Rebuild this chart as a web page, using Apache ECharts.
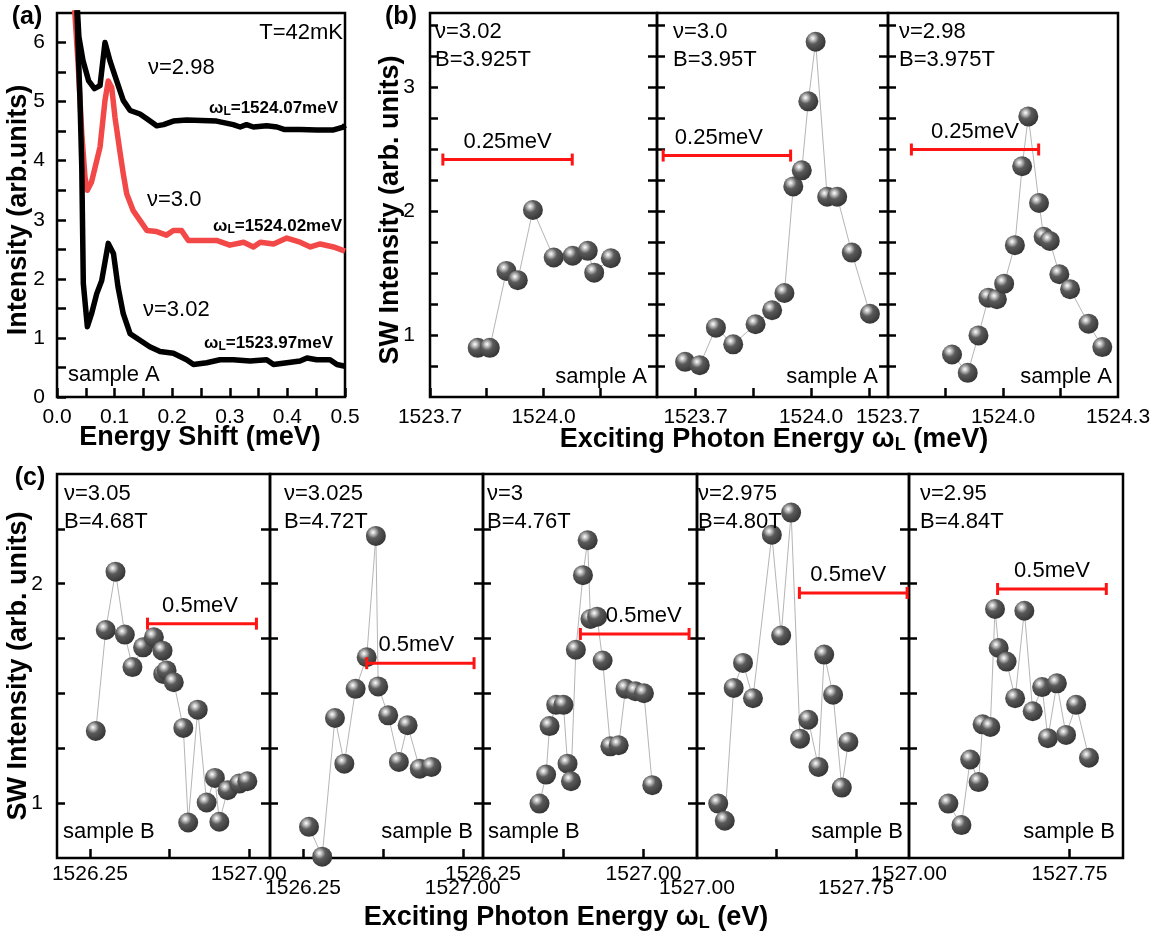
<!DOCTYPE html>
<html><head><meta charset="utf-8">
<script src="https://cdn.jsdelivr.net/npm/echarts@6/dist/echarts.min.js"></script>
<style>html,body{margin:0;padding:0;background:#fff}#c{width:1165px;height:941px}</style>
</head><body><div id="c"></div>
<script>
// ================= DATA =================
// Panel (a): spectra, energy shift (meV) vs intensity
const aShift298 = [0.033,0.038,0.045,0.055,0.065,0.0747,0.0833,0.092,0.1036,0.115,0.127,0.144,0.156,0.173,0.185,0.202,0.225,0.277,0.306,0.318,0.329,0.341,0.364,0.382,0.394,0.422,0.451,0.480,0.497,0.5];
const aInt298   = [7.0,6.1,5.7,5.35,5.22,5.27,6.0,5.69,5.35,5.02,4.85,4.79,4.71,4.59,4.61,4.67,4.69,4.67,4.61,4.57,4.61,4.57,4.59,4.57,4.53,4.53,4.52,4.52,4.57,4.6];
const aShift300 = [0.027,0.031,0.037,0.043,0.0486,0.0527,0.060,0.069,0.0747,0.0833,0.089,0.095,0.1007,0.109,0.115,0.121,0.132,0.144,0.156,0.173,0.190,0.202,0.216,0.228,0.248,0.277,0.300,0.324,0.341,0.353,0.376,0.399,0.422,0.440,0.457,0.480,0.5];
const aInt300   = [7.2,6.5,5.58,4.46,3.72,3.50,3.64,4.0,4.23,5.02,5.35,5.24,4.73,4.17,3.78,3.44,3.16,2.99,2.82,2.80,2.74,2.82,2.82,2.65,2.65,2.65,2.57,2.62,2.54,2.62,2.59,2.69,2.62,2.54,2.59,2.54,2.47];
const aShift302 = [0.033,0.040,0.043,0.0457,0.0527,0.060,0.069,0.0776,0.089,0.098,0.106,0.115,0.127,0.144,0.161,0.179,0.202,0.225,0.237,0.260,0.283,0.306,0.335,0.364,0.376,0.399,0.422,0.434,0.451,0.474,0.486,0.5];
const aInt302   = [7.0,5.0,3.89,1.92,1.19,1.41,1.75,1.97,2.6,2.43,1.86,1.41,1.07,0.96,0.85,0.77,0.74,0.63,0.55,0.58,0.63,0.63,0.61,0.63,0.55,0.58,0.61,0.66,0.63,0.63,0.55,0.52];
const aXTicks  = [0,0.05,0.1,0.15,0.2,0.25,0.3,0.35,0.4,0.45,0.5];
const aXLabels = [0,0.1,0.2,0.3,0.4,0.5];
const aYTicks  = [0,0.5,1,1.5,2,2.5,3,3.5,4,4.5,5,5.5,6];
const aYLabels = [0,1,2,3,4,5,6];

// Panel (b): SW intensity vs exciting photon energy (meV), sample A
const b1Energy = [1523.826,1523.858,1523.902,1523.932,1523.972,1524.027,1524.077,1524.117,1524.134,1524.178];
const b1SW     = [0.897,0.897,1.518,1.443,2.01,1.626,1.64,1.68,1.504,1.62];
const b2Energy = [1523.673,1523.711,1523.753,1523.798,1523.856,1523.899,1523.931,1523.954,1523.976,1523.993,1524.012,1524.042,1524.068,1524.106,1524.153];
const b2SW     = [0.784,0.757,1.06,0.925,1.087,1.2,1.34,2.2,2.33,2.887,3.368,2.117,2.117,1.666,1.172];
const b3Energy = [1523.867,1523.908,1523.936,1523.962,1523.984,1524.003,1524.031,1524.05,1524.066,1524.094,1524.106,1524.122,1524.147,1524.175,1524.223,1524.259];
const b3SW     = [0.843,0.695,0.997,1.302,1.289,1.415,1.726,2.363,2.765,2.066,1.794,1.76,1.491,1.37,1.092,0.903];
const bScaleBars = [[1523.734,1524.076,2.417],[1523.616,1523.947,2.449],[1523.761,1524.093,2.498]];
const bScaleText = '0.25meV';
const bXRanges = [[1523.7,1524.3],[1523.6,1524.2],[1523.7,1524.3]];
const bXTicks  = [[1523.7,1523.85,1524.0,1524.15],[1523.7,1523.85,1524.0,1524.15],[1523.85,1524.0,1524.15]];
const bXLabels = [[1523.7,1524.0],[1523.7,1524.0],[1523.7,1524.0,1524.3]];
const bYTicks  = [0.75,1,1.25,1.5,1.75,2,2.25,2.5,2.75,3,3.25,3.5];
const bYLabels = [1,2,3];

// Panel (c): SW intensity vs exciting photon energy, sample B
const c1Energy = [1526.278,1526.325,1526.371,1526.415,1526.451,1526.501,1526.552,1526.593,1526.596,1526.612,1526.646,1526.691,1526.714,1526.759,1526.801,1526.84,1526.861,1526.9,1526.955,1526.993];
const c1SW     = [1.329,1.789,2.055,1.768,1.62,1.71,1.756,1.695,1.589,1.605,1.551,1.343,0.912,1.426,1.003,1.115,0.915,1.059,1.089,1.1];
const c2Energy = [1526.278,1526.34,1526.4,1526.444,1526.497,1526.549,1526.592,1526.603,1526.65,1526.7,1526.741,1526.798,1526.853];
const c2SW     = [0.892,0.756,1.388,1.18,1.521,1.665,2.218,1.532,1.4,1.188,1.355,1.157,1.165];
const c3Energy = [1526.514,1526.545,1526.561,1526.592,1526.626,1526.645,1526.661,1526.684,1526.717,1526.739,1526.752,1526.783,1526.809,1526.845,1526.884,1526.916,1526.962,1527.002,1527.041];
const c3SW     = [0.998,1.13,1.351,1.448,1.448,1.18,1.1,1.699,2.039,2.198,1.839,1.85,1.65,1.259,1.264,1.521,1.51,1.501,1.082];
const c4Energy = [1527.1,1527.131,1527.173,1527.217,1527.264,1527.353,1527.397,1527.444,1527.486,1527.525,1527.573,1527.6,1527.642,1527.683,1527.714];
const c4SW     = [0.998,0.92,1.525,1.639,1.478,2.223,1.764,2.324,1.294,1.38,1.165,1.677,1.494,1.071,1.279];
const c5Energy = [1527.184,1527.245,1527.286,1527.325,1527.344,1527.38,1527.402,1527.419,1527.456,1527.496,1527.539,1527.578,1527.622,1527.649,1527.691,1527.734,1527.781,1527.841];
const c5SW     = [0.998,0.9,1.199,1.096,1.359,1.347,1.885,1.707,1.645,1.478,1.877,1.419,1.529,1.296,1.546,1.311,1.448,1.207];
const cScaleBars = [[1526.522,1527.036,1.818],[1526.549,1527.053,1.638],[1526.705,1527.213,1.771],[1527.483,1527.991,1.958],[1527.414,1527.922,1.976]];
const cScaleText = '0.5meV';
const cXRanges = [[1526.095,1527.1],[1526.095,1527.095],[1526.25,1527.25],[1527.0,1528.0],[1527.0,1528.0]];
const cXTicks  = [[1526.25,1526.625,1527.0],[1526.25,1526.625,1527.0],[1526.625,1527.0],[1527.375,1527.75],[1527.75]];
const cXLabels = [[1526.25,1527.0],[1526.25,1527.0],[1526.25,1527.0],[1527.0,1527.75],[1527.0,1527.75]];
const cYTicks  = [1,1.25,1.5,1.75,2,2.25];
const cYLabels = [1,2];

// ================= LAYOUT / STYLE =================
const FONT = 'Arial, "Liberation Sans", sans-serif';
const zip = (xs, ys) => xs.map((x, i) => [x, ys[i]]);
const gridBase = {show:true, borderColor:'#000', borderWidth:2.5, backgroundColor:'rgba(0,0,0,0)', containLabel:false};
const grids = [
  {left:57, top:13, width:288, height:384},
  {left:430, top:13, width:227, height:384},
  {left:657, top:13, width:231, height:384},
  {left:888, top:13, width:230, height:384},
  {left:57, top:474, width:213, height:384},
  {left:270, top:474, width:213, height:384},
  {left:483, top:474, width:214, height:384},
  {left:697, top:474, width:212, height:384},
  {left:909, top:474, width:214, height:384}
].map(g => Object.assign({}, gridBase, g));

function tick(vals, len) {
  return {show:true, inside:true, length:len || 9, customValues:vals, lineStyle:{color:'#000', width:2.5}};
}
function lab(vals, fmt, margin, show) {
  return {show:show !== false, customValues:vals, formatter:fmt, margin:margin, fontSize:21, color:'#000', fontFamily:FONT};
}
const xAxes = [], yAxes = [];
// (a)
xAxes.push({gridIndex:0, type:'value', min:0, max:0.5, axisLine:{show:false}, splitLine:{show:false},
  axisTick:tick(aXTicks), axisLabel:lab(aXLabels, v => v.toFixed(1), 10)});
yAxes.push({gridIndex:0, type:'value', min:0, max:6.5, axisLine:{show:false}, splitLine:{show:false},
  axisTick:tick(aYTicks), axisLabel:lab(aYLabels, v => String(v), 12)});
// (b)
for (let i = 0; i < 3; i++) {
  xAxes.push({gridIndex:1+i, type:'value', min:bXRanges[i][0], max:bXRanges[i][1], axisLine:{show:false}, splitLine:{show:false},
    axisTick:tick(bXTicks[i]), axisLabel:lab(bXLabels[i], v => v.toFixed(1), 10)});
}
const bYIdx = [];
for (let i = 0; i < 3; i++) {
  bYIdx.push(yAxes.length);
  yAxes.push({gridIndex:1+i, type:'value', min:0.5, max:3.6, position:'left', axisLine:{show:false}, splitLine:{show:false},
    axisTick:tick(bYTicks, 8), axisLabel:lab(bYLabels, v => String(v), 15, i === 0)});
  if (i < 2) yAxes.push({gridIndex:1+i, type:'value', min:0.5, max:3.6, position:'right', axisLine:{show:false}, splitLine:{show:false},
    axisTick:tick(bYTicks, 9), axisLabel:{show:false}});
}
// (c)
const cLabelMargins = [6, 20, 6, 20, 6];
for (let i = 0; i < 5; i++) {
  xAxes.push({gridIndex:4+i, type:'value', min:cXRanges[i][0], max:cXRanges[i][1], axisLine:{show:false}, splitLine:{show:false},
    axisTick:tick(cXTicks[i]), axisLabel:lab(cXLabels[i], v => v.toFixed(2), cLabelMargins[i])});
}
const cYIdx = [];
for (let i = 0; i < 5; i++) {
  cYIdx.push(yAxes.length);
  yAxes.push({gridIndex:4+i, type:'value', min:0.75, max:2.5, position:'left', axisLine:{show:false}, splitLine:{show:false},
    axisTick:tick(cYTicks, 8), axisLabel:lab(cYLabels, v => String(v), 14, i === 0)});
  if (i < 4) yAxes.push({gridIndex:4+i, type:'value', min:0.75, max:2.5, position:'right', axisLine:{show:false}, splitLine:{show:false},
    axisTick:tick(cYTicks, 9), axisLabel:{show:false}});
}

const sphere = {type:'radial', x:0.36, y:0.32, r:0.72, colorStops:[
  {offset:0, color:'#ffffff'}, {offset:0.16, color:'#c4c4c4'}, {offset:0.42, color:'#5a5a5a'}, {offset:1, color:'#333333'}]};

const series = [];
// (a) spectra
[[aShift298, aInt298, '#000000'], [aShift300, aInt300, '#f24848'], [aShift302, aInt302, '#000000']].forEach(s => {
  series.push({type:'line', xAxisIndex:0, yAxisIndex:0, data:zip(s[0], s[1]), showSymbol:false, symbol:'none',
    lineStyle:{color:s[2], width:5.5, join:'round'}, clip:true, z:3});
});
function markerSeries(xi, yi, xs, ys) {
  return {type:'line', xAxisIndex:xi, yAxisIndex:yi, data:zip(xs, ys), symbol:'circle', symbolSize:20,
    itemStyle:{color:sphere, borderWidth:0}, lineStyle:{color:'#b5b5b5', width:1}, clip:true, z:4};
}
function barSeries(xi, yi, bar, text, dx) {
  return {type:'custom', xAxisIndex:xi, yAxisIndex:yi, data:[bar], z:5, clip:false,
    renderItem:function(params, api) {
      const p1 = api.coord([api.value(0), api.value(2)]);
      const p2 = api.coord([api.value(1), api.value(2)]);
      const st = {stroke:'#ff1414', lineWidth:3};
      return {type:'group', children:[
        {type:'line', shape:{x1:p1[0], y1:p1[1], x2:p2[0], y2:p2[1]}, style:st},
        {type:'line', shape:{x1:p1[0], y1:p1[1]-6, x2:p1[0], y2:p1[1]+6}, style:st},
        {type:'line', shape:{x1:p2[0], y1:p2[1]-6, x2:p2[0], y2:p2[1]+6}, style:st},
        {type:'text', style:{text:text, x:(p1[0]+p2[0])/2 + (dx||0), y:p1[1]-18, textAlign:'center', textVerticalAlign:'middle',
          font:'22px ' + FONT, fill:'#000'}}
      ]};
    }};
}
[[b1Energy, b1SW], [b2Energy, b2SW], [b3Energy, b3SW]].forEach((s, i) => {
  series.push(markerSeries(1+i, bYIdx[i], s[0], s[1]));
  series.push(barSeries(1+i, bYIdx[i], bScaleBars[i], bScaleText, [0,-8,0][i]));
});
[[c1Energy, c1SW], [c2Energy, c2SW], [c3Energy, c3SW], [c4Energy, c4SW], [c5Energy, c5SW]].forEach((s, i) => {
  series.push(markerSeries(4+i, cYIdx[i], s[0], s[1]));
  series.push(barSeries(4+i, cYIdx[i], cScaleBars[i], cScaleText, [-2,-4,9,-5,0][i]));
});

// ================= TEXT =================
const T = [];
function txt(text, x, y, align, size, bold) {
  T.push({type:'text', x:x, y:y, z:10, style:{text:text, x:0, y:0, textAlign:align || 'left', textVerticalAlign:'middle',
    font:(bold ? 'bold ' : '') + (size || 22) + 'px ' + FONT, fill:'#000'}});
}
function omegaL(value, x, y) {
  T.push({type:'text', x:x, y:y, z:10, style:{text:'{m|ω}{s|L}{m|=' + value + '}', x:0, y:0, textAlign:'right', textVerticalAlign:'middle',
    rich:{m:{font:'bold 17px ' + FONT, fill:'#000', verticalAlign:'top', lineHeight:18},
          s:{font:'bold 12px ' + FONT, fill:'#000', verticalAlign:'bottom', lineHeight:12, padding:[12,0,0,0]}}}});
}
function rotTitle(text, x, y) {
  T.push({type:'text', x:x, y:y, rotation:Math.PI/2, z:10, style:{text:text, x:0, y:0, textAlign:'center', textVerticalAlign:'middle',
    font:'bold 27px ' + FONT, fill:'#000'}});
}
function omegaTitle(pre, post, x, y) {
  T.push({type:'text', x:x, y:y, z:10, style:{text:'{m|' + pre + '}{s|L}{m|' + post + '}', x:0, y:0, textAlign:'center', textVerticalAlign:'middle',
    rich:{m:{font:'bold 27px ' + FONT, fill:'#000', verticalAlign:'top', lineHeight:28},
          s:{font:'bold 18px ' + FONT, fill:'#000', verticalAlign:'bottom', lineHeight:18, padding:[16,0,0,0]}}}});
}
// panel labels
txt('(a)', 27, 17, 'center', 25, true);
txt('(b)', 401, 17, 'center', 25, true);
txt('(c)', 30, 478, 'center', 25, true);
// (a)
txt('T=42mK', 343, 33, 'right');
txt('ν=2.98', 148, 68);
omegaL('1524.07meV', 338, 109);
txt('ν=3.0', 147, 200);
omegaL('1524.02meV', 342, 227);
txt('ν=3.02', 143, 310);
omegaL('1523.97meV', 333, 344);
txt('sample A', 68, 375);
// (b)
[['ν=3.02','B=3.925T',435,647], ['ν=3.0','B=3.95T',673,878], ['ν=2.98','B=3.975T',899,1112]].forEach(r => {
  txt(r[0], r[2], 32); txt(r[1], r[2], 60); txt('sample A', r[3], 377, 'right');
});
// (c)
[['ν=3.05','B=4.68T',64,63,'left'], ['ν=3.025','B=4.72T',284,473,'right'], ['ν=3','B=4.76T',487,488,'left'],
 ['ν=2.975','B=4.80T',698,903,'right'], ['ν=2.95','B=4.84T',920,1115,'right']].forEach(r => {
  txt(r[0], r[2], 494); txt(r[1], r[2], 522); txt('sample B', r[3], 832, r[4]);
});
// axis titles
rotTitle('Intensity (arb.units)', 19, 210);
txt('Energy Shift (meV)', 200, 438, 'center', 27, true);
rotTitle('SW Intensity (arb. units)', 391, 210);
omegaTitle('Exciting Photon Energy ω', ' (meV)', 774, 440);
rotTitle('SW Intensity (arb. units)', 19, 666);
omegaTitle('Exciting Photon Energy ω', ' (eV)', 566, 918);

const chart = echarts.init(document.getElementById('c'), null, {renderer:'canvas'});
chart.setOption({
  animation:false,
  backgroundColor:'#fff',
  grid:grids, xAxis:xAxes, yAxis:yAxes, series:series,
  graphic:{elements:T}
});
</script></body></html>
